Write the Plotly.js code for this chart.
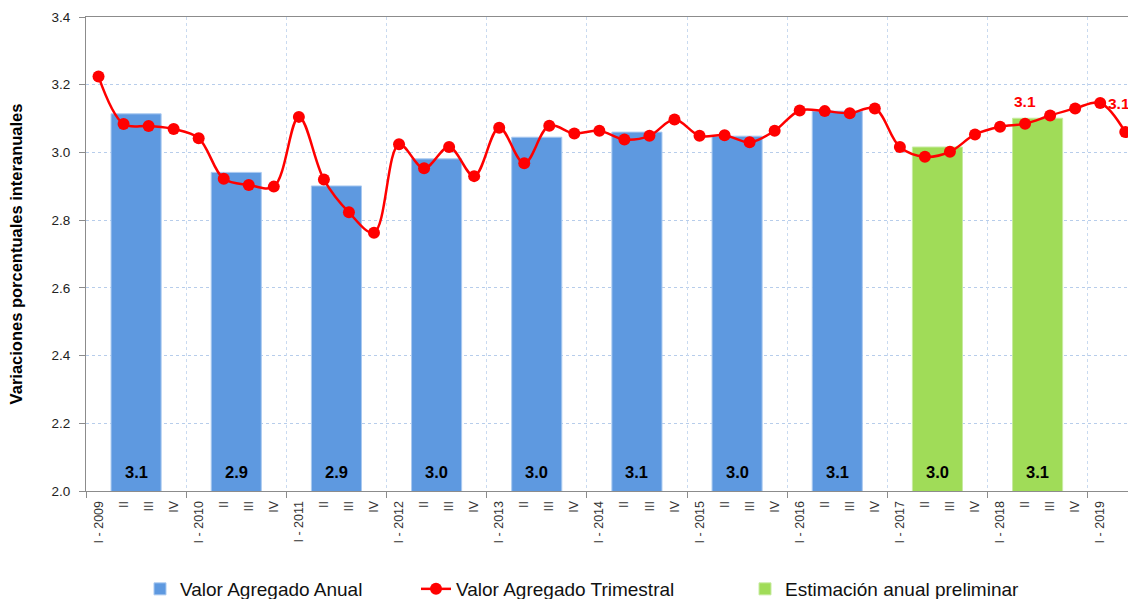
<!DOCTYPE html>
<html>
<head>
<meta charset="utf-8">
<script src="https://cdn.plot.ly/plotly-3.0.1.min.js"></script>
<style>html,body{margin:0;padding:0;background:#fff;}#chart{width:1128px;height:599px;}</style>
</head>
<body>
<div id="chart"></div>
<script>
// ---- data ----
const years = [2009, 2010, 2011, 2012, 2013, 2014, 2015, 2016, 2017, 2018, 2019];
const romans = ["I", "II", "III", "IV"];
const annualYearsFinal = [2009, 2010, 2011, 2012, 2013, 2014, 2015, 2016];
const annualValuesFinal = [3.114, 2.941, 2.901, 2.981, 3.045, 3.060, 3.048, 3.122];
const annualYearsPrelim = [2017, 2018];
const annualValuesPrelim = [3.016, 3.101];
const quarterlyValues = [
  3.224, 3.084, 3.078, 3.069,   // 2009
  3.042, 2.922, 2.904, 2.899,   // 2010
  3.105, 2.920, 2.823, 2.763,   // 2011
  3.024, 2.953, 3.016, 2.930,   // 2012
  3.073, 2.968, 3.079, 3.056,   // 2013
  3.064, 3.038, 3.049, 3.097,   // 2014
  3.049, 3.051, 3.030, 3.064,   // 2015
  3.124, 3.122, 3.116, 3.130,   // 2016
  3.016, 2.987, 3.002, 3.053,   // 2017
  3.076, 3.085, 3.109, 3.130,   // 2018
  3.146, 3.060                  // 2019
];
const labeledQuarters = [37, 40]; // II-2018, I-2019

// tick labels
const quarterLabels = [];
years.forEach(y => romans.forEach((r, i) => quarterLabels.push(i === 0 ? r + " - " + y : r)));
const tickLabels = quarterLabels.slice(0, quarterlyValues.length);
const qIdx = quarterlyValues.map((_, i) => i);
const yearPos = y => (y - years[0]) * 4 + 1.5;

const FONT = "Liberation Sans, Arial, sans-serif";

const traces = [
  {
    type: "bar", name: "Valor Agregado Anual", legend: "legend",
    x: annualYearsFinal.map(yearPos), y: annualValuesFinal, width: 2,
    marker: {color: "#5E99E0", line: {color: "#A9C9F0", width: 1}},
    hoverinfo: "y"
  },
  {
    type: "scatter", mode: "lines+markers", name: "Valor Agregado Trimestral", legend: "legend2",
    x: qIdx, y: quarterlyValues,
    line: {color: "#FF0000", width: 2.5, shape: "spline", smoothing: 1},
    marker: {color: "#FF0000", size: 12}
  },
  {
    type: "bar", name: "Estimación anual preliminar", legend: "legend3",
    x: annualYearsPrelim.map(yearPos), y: annualValuesPrelim, width: 2,
    marker: {color: "#A0DC58", line: {color: "#C7EBA0", width: 1}},
    hoverinfo: "y"
  },
  { // invisible trace carrying boundary ticks / vertical grid
    type: "scatter", x: [-0.5], y: [null], xaxis: "x2", showlegend: false, hoverinfo: "skip"
  }
];

const annotations = [];
annualYearsFinal.concat(annualYearsPrelim).forEach((yr, i) => {
  const v = annualValuesFinal.concat(annualValuesPrelim)[i];
  annotations.push({x: yearPos(yr), y: 2.0, xref: "x", yref: "y", text: v.toFixed(1),
    showarrow: false, yanchor: "bottom", yshift: 8,
    font: {family: FONT, size: 16.5, color: "#000", weight: "bold"}});
});
annotations.push({x: labeledQuarters[0], y: quarterlyValues[labeledQuarters[0]], text: quarterlyValues[labeledQuarters[0]].toFixed(1),
  showarrow: false, yanchor: "bottom", yshift: 12, font: {family: FONT, size: 15.5, color: "#FF0000", weight: "bold"}});
annotations.push({x: labeledQuarters[1], y: quarterlyValues[labeledQuarters[1]], text: quarterlyValues[labeledQuarters[1]].toFixed(1),
  showarrow: false, xanchor: "left", xshift: 6, font: {family: FONT, size: 15.5, color: "#FF0000", weight: "bold"}});

const boundaries = [];
for (let b = -0.5; b < 44; b += 4) boundaries.push(b);

const legendBase = {orientation: "h", xref: "container", yref: "container", xanchor: "left",
  y: 0.0167, yanchor: "middle", font: {family: FONT, size: 19, color: "#111"}, itemwidth: 30,
  bgcolor: "rgba(0,0,0,0)", borderwidth: 0};

const xr = [-0.5, 41.11];
const layout = {
  width: 1128, height: 599,
  margin: {l: 86, r: 0, t: 17, b: 108},
  paper_bgcolor: "#fff", plot_bgcolor: "#fff",
  font: {family: FONT, color: "#222"},
  barmode: "overlay",
  showlegend: true,
  legend: Object.assign({}, legendBase, {x: 140 / 1128}),
  legend2: Object.assign({}, legendBase, {x: 416 / 1128}),
  legend3: Object.assign({}, legendBase, {x: 745 / 1128}),
  xaxis: {
    range: xr, tickmode: "array", tickvals: qIdx, ticktext: tickLabels, tickangle: -90,
    ticks: "", showgrid: false, zeroline: false, automargin: false, ticklabelstandoff: 4,
    showline: true, linecolor: "#8C8C8C", linewidth: 1, mirror: true,
    tickfont: {family: FONT, size: 12.5, color: "#333"}
  },
  xaxis2: {
    overlaying: "x", range: xr, tickmode: "array", tickvals: boundaries, showticklabels: false,
    ticks: "outside", ticklen: 6, tickcolor: "#8C8C8C", showgrid: true, gridcolor: "#C9DAF0",
    griddash: "dot", gridwidth: 1, zeroline: false, showline: false, side: "bottom", anchor: "y",
    automargin: false
  },
  yaxis: {
    range: [2.0, 3.4], dtick: 0.2, tickformat: ".1f", ticks: "outside", ticklen: 6, tickcolor: "#8C8C8C",
    showline: true, linecolor: "#8C8C8C", linewidth: 1, zeroline: false, automargin: false,
    ticklabelstandoff: 6,
    showgrid: true, gridcolor: "#B7CDEB", griddash: "dot", gridwidth: 1,
    tickfont: {family: FONT, size: 13.5, color: "#222"},
    title: {text: "Variaciones porcentuales interanuales", standoff: 24,
      font: {family: FONT, size: 16.5, color: "#000", weight: "bold"}}
  },
  annotations: annotations
};

Plotly.newPlot("chart", traces, layout, {displayModeBar: false, staticPlot: true});
</script>
</body>
</html>
